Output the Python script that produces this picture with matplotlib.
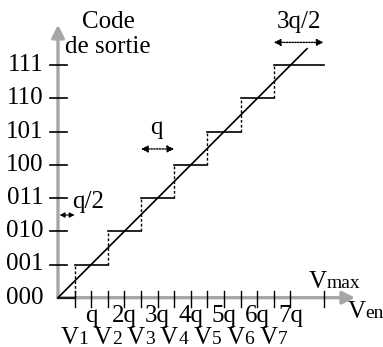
import numpy as np
import matplotlib.pyplot as plt

plt.rcParams['font.family'] = ['Liberation Serif', 'DejaVu Serif']

codes = ['000', '001', '010', '011', '100', '101', '110', '111']
xlabels = ['q', '2q', '3q', '4q', '5q', '6q', '7q']
vlabels = ['1', '2', '3', '4', '5', '6', '7']
vmax = 8.0
gray = '#a6a6a6'
fs = 18
fs_small = 14

fig = plt.figure(figsize=(3.83, 3.47), dpi=100)
ax = fig.add_axes([0, 0, 1, 1])
ax.set_xlim(-58 / 33.2, (383 - 58) / 33.2)
ax.set_ylim(-(347 - 297.7) / 33.2, 297.7 / 33.2)
ax.axis('off')

# axes arrows
ax.annotate('', xy=(8.95, 0), xytext=(0, 0),
            arrowprops=dict(arrowstyle='-|>,head_length=0.75,head_width=0.38', color=gray, lw=2.4,
                            shrinkA=0, shrinkB=0))
ax.annotate('', xy=(0, 8.22), xytext=(0, 0),
            arrowprops=dict(arrowstyle='-|>,head_length=0.75,head_width=0.38', color=gray, lw=2.4,
                            shrinkA=0, shrinkB=0))

# y ticks
for k, c in enumerate(codes):
    if k > 0:
        ax.plot([-0.24, 0.27], [k, k], color='black', lw=1.2, zorder=3)
    ax.text(-0.43, k, c, ha='right', va='center', fontsize=fs)

# x ticks
ticks = list(np.arange(1, 15) / 2.0) + [vmax]
for t in ticks:
    ax.plot([t, t], [-0.27, 0.2], color='black', lw=1.0, zorder=3)
for k, s in enumerate(xlabels):
    ax.text(k + 1, -0.74, s, ha='center', va='baseline', fontsize=fs)
for k, s in enumerate(vlabels):
    x = k + 0.5
    ax.text(x + 0.12, -1.38, 'V', ha='right', va='baseline', fontsize=fs)
    ax.text(x + 0.12, -1.38, s, ha='left', va='baseline', fontsize=fs_small)

ax.text(8.1, 0.28, 'V', ha='right', va='baseline', fontsize=fs)
ax.text(8.1, 0.28, 'max', ha='left', va='baseline', fontsize=fs_small)
ax.text(8.73, -0.61, 'V', ha='left', va='baseline', fontsize=fs)
ax.text(9.25, -0.61, 'en', ha='left', va='baseline', fontsize=fs_small)

ax.text(1.51, 8.31, 'Code', ha='center', va='center', fontsize=fs)
ax.text(1.51, 7.56, 'de sortie', ha='center', va='center', fontsize=fs)

# staircase
ax.plot([0, 0.5], [0, 0], color='black', lw=1.2, zorder=4)
for k in range(1, 8):
    right = k + 0.5 if k < 7 else vmax
    ax.plot([k - 0.5, right], [k, k], color='black', lw=1.2, zorder=4)
    ax.plot([k - 0.5, k - 0.5], [k - 1, k], color='black', lw=1.0, ls=(0, (2, 1.5)), zorder=4)

# ideal line
ax.plot([0, 7.5], [0, 7.5], color='black', lw=1.2, zorder=4)

# dimension arrows
ax.annotate('', xy=(0.5, 2.49), xytext=(0.05, 2.49),
            arrowprops=dict(arrowstyle='<|-|>,head_length=0.3,head_width=0.15', color='black', lw=0.8,
                            shrinkA=0, shrinkB=0))
ax.text(0.42, 2.88, 'q/2', ha='left', va='center', fontsize=fs)

ax.annotate('', xy=(3.5, 4.48), xytext=(2.5, 4.48),
            arrowprops=dict(arrowstyle='<|-|>,head_length=0.4,head_width=0.2', color='black', lw=1.0,
                            ls=(0, (1, 1)), shrinkA=0, shrinkB=0))
ax.text(2.95, 5.1, 'q', ha='center', va='center', fontsize=fs)

ax.annotate('', xy=(8.0, 7.69), xytext=(6.5, 7.69),
            arrowprops=dict(arrowstyle='<|-|>,head_length=0.4,head_width=0.2', color='black', lw=1.0,
                            ls=(0, (1, 1)), shrinkA=0, shrinkB=0))
ax.text(7.25, 8.31, '3q/2', ha='center', va='center', fontsize=fs)

fig.savefig('out.png', dpi=100)
